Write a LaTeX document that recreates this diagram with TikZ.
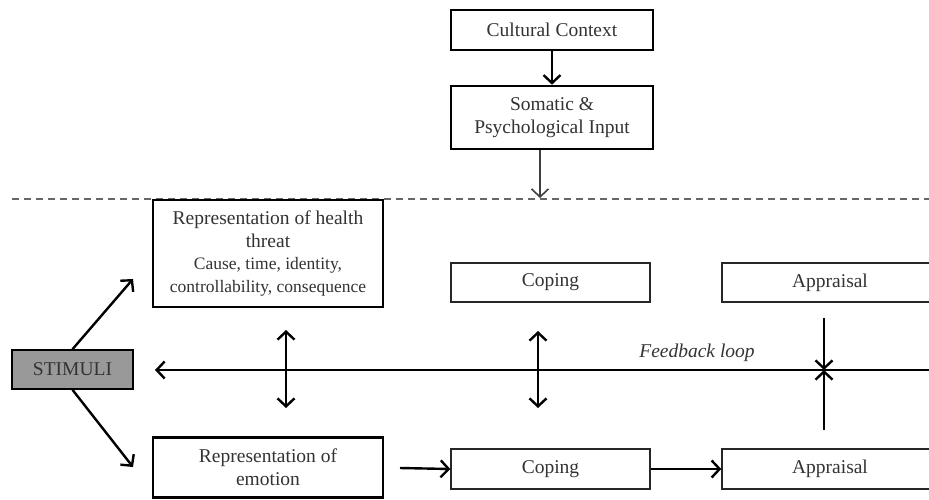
\documentclass[tikz,border=0pt]{standalone}
\usepackage{fontspec}
\setmainfont{Liberation Serif}
\usetikzlibrary{arrows.meta}
\definecolor{txt}{HTML}{333333}
\definecolor{stimfill}{HTML}{999999}
\begin{document}
\begin{tikzpicture}[x=1pt,y=-1pt,
  thickbox/.style={draw=black, line width=2.6pt, fill=white, align=center, inner sep=0pt, text=txt, font=\fontsize{19.5}{23}\selectfont},
  thinbox/.style={draw=black!85, line width=1.4pt, fill=white, align=center, inner sep=0pt, text=txt, font=\fontsize{19.5}{23}\selectfont},
  tip/.style={},
  arr/.style={line width=2.4pt, -{Straight Barb[length=8pt,width=17pt]}},
  darr/.style={line width=2.4pt, {Straight Barb[length=8pt,width=17pt]}-{Straight Barb[length=8pt,width=17pt]}},
  dashline/.style={draw=black!60, line width=1.8pt, dash pattern=on 7pt off 5pt}]
\useasboundingbox (0,0) rectangle (929,499);
\fill[white] (0,0) rectangle (929,499);

% top context
\node[thickbox, minimum width=202pt, minimum height=40pt] (cult) at (552,30) {Cultural Context};
\node[thickbox, minimum width=202pt, minimum height=63pt] (som) at (552,117.5) {Somatic \&\\Psychological Input};

% dashed separator
\coordinate (dashL) at (12,199);
\coordinate (dashR) at (929,199);
\draw[dashline] (dashL) -- (dashR);
\coordinate (dashpt) at (540,198);

% main boxes
\node[thickbox, minimum width=230pt, minimum height=107pt] (threat) at (268,253.5) {Representation of health\\threat\\[-1pt]{\fontsize{17.5}{21.5}\selectfont Cause, time, identity,}\\{\fontsize{17.5}{21.5}\selectfont controllability, consequence}};
\node[thickbox, fill=stimfill, line width=1.6pt, minimum width=121pt, minimum height=39pt] (stim) at (72.5,369.5) {STIMULI};
\node[thickbox, minimum width=230pt, minimum height=60pt] (emo) at (268,467.5) {Representation of\\emotion};

\node[thinbox, minimum width=199pt, minimum height=39pt] (cop1) at (550.5,282.5) {Coping};
\node[thinbox, minimum width=216pt, minimum height=39pt] (app1) at (830,282.5) {Appraisal};
\node[thinbox, minimum width=199pt, minimum height=40pt] (cop2) at (550.5,469) {Coping};
\node[thinbox, minimum width=216pt, minimum height=40pt] (app2) at (830,469) {Appraisal};

% connectors in the top part
\draw[arr] (cult.south) -- (som.north);
\draw[line width=1.6pt, draw=black!75, -{Straight Barb[length=8pt,width=17pt]}] (som.south -| dashpt) -- (dashpt);

% stimuli arrows
\coordinate (toThreat) at (133,279);
\coordinate (toEmo) at (133,467);
\draw[arr] (stim.north) -- (toThreat);
\draw[arr] (stim.south) -- (toEmo);

% feedback loop
\coordinate (fbR) at (929,370);
\coordinate (fbL) at (155,370);
\draw[arr] (fbR) -- (fbL);
\node[text=txt, font=\fontsize{19.5}{23}\selectfont\itshape] (fbtext) at (697,353) {Feedback loop};

% double arrows
\coordinate (d1a) at (286,330);
\coordinate (d1b) at (286,408);
\draw[darr] (d1a) -- (d1b);
\coordinate (d2a) at (538,331);
\coordinate (d2b) at (538,408);
\draw[darr] (d2a) -- (d2b);

% appraisal arrows to the feedback line
\coordinate (apTop) at (824,318);
\coordinate (apMid) at (824,370);
\coordinate (apBot) at (824,430);
\draw[arr] (apTop) -- (apMid);
\draw[arr] (apBot) -- (apMid);

% bottom chain
\coordinate (emoOut) at (400,468);
\draw[arr] (emoOut) -- (cop2.west);
\draw[arr] (cop2.east) -- (app2.west);
\end{tikzpicture}
\end{document}
